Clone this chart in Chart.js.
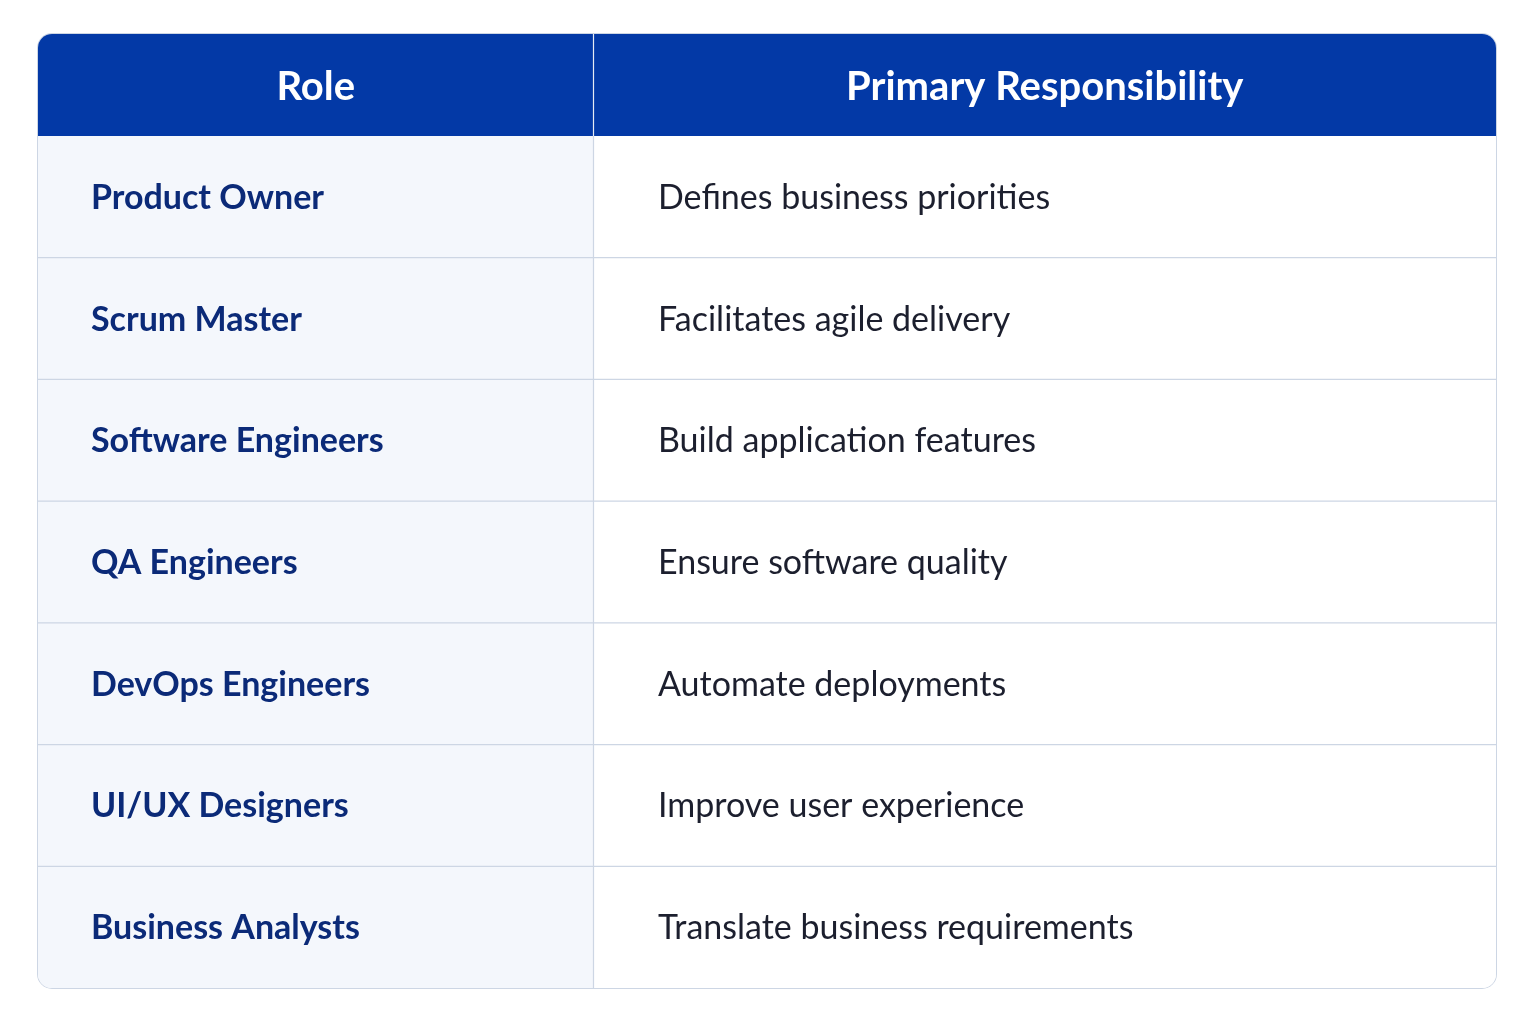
<!DOCTYPE html>
<html><head><meta charset="utf-8">
<script src="https://cdn.jsdelivr.net/npm/chart.js@4/dist/chart.umd.min.js"></script>
<style>
html,body{margin:0;padding:0;background:#fff;width:1536px;height:1024px;overflow:hidden}
#wrap{position:absolute;left:38px;top:34px;width:1458px;height:954px;border-radius:14px;overflow:hidden;box-shadow:0 0 0 1px #cdd6e4}
canvas{display:block}
</style></head><body>
<div id="wrap"><canvas id="c" width="1458" height="954"></canvas></div>
<script>
const headers = ["Role", "Primary Responsibility"];
const roles = ["Product Owner","Scrum Master","Software Engineers","QA Engineers","DevOps Engineers","UI/UX Designers","Business Analysts"];
const responsibilities = ["Defines business priorities","Facilitates agile delivery","Build application features","Ensure software quality","Automate deployments","Improve user experience","Translate business requirements"];
const colSplit = 38.1;

const tablePlugin = {
  id:'table',
  afterDatasetsDraw(chart){
    const {ctx, chartArea:a, scales:{x,y}} = chart;
    const xs = x.getPixelForValue(colSplit);
    ctx.save();
    // header
    ctx.fillStyle = '#0339a6';
    ctx.fillRect(0,0,chart.width,a.top);
    ctx.fillStyle='#fff';
    ctx.font='bold 40px Lato, "Open Sans", sans-serif';
    ctx.textAlign='center'; ctx.textBaseline='middle';
    ctx.fillText(headers[0], xs/2, a.top/2+2);
    ctx.fillText(headers[1], (xs+chart.width)/2, a.top/2+2);
    // grid lines
    ctx.strokeStyle='#cdd6e4'; ctx.lineWidth=1.2;
    const n = roles.length;
    for(let i=0;i<n-1;i++){
      const yy = (y.getPixelForValue(i)+y.getPixelForValue(i+1))/2;
      ctx.beginPath(); ctx.moveTo(0,yy); ctx.lineTo(chart.width,yy); ctx.stroke();
    }
    ctx.beginPath(); ctx.moveTo(xs,a.top); ctx.lineTo(xs,chart.height); ctx.stroke();
    ctx.strokeStyle='#e6ebf3';
    ctx.beginPath(); ctx.moveTo(xs,0); ctx.lineTo(xs,a.top); ctx.stroke();
    // text
    ctx.textAlign='left';
    roles.forEach((r,i)=>{
      const yy=y.getPixelForValue(i)+1;
      ctx.fillStyle='#0b2a78'; ctx.font='bold 34px Lato, "Open Sans", sans-serif';
      ctx.fillText(r, 53, yy);
      ctx.fillStyle='#1c1f2e'; ctx.font='34px Lato, "Open Sans", sans-serif';
      ctx.fillText(responsibilities[i], 620, yy);
    });
    ctx.restore();
  }
};

new Chart(document.getElementById('c'),{
  type:'bar',
  data:{labels:roles,datasets:[
    {data:roles.map(()=>[0,colSplit]),backgroundColor:'#f4f7fc',barPercentage:1,categoryPercentage:1,grouped:false},
    {data:roles.map(()=>[colSplit,100]),backgroundColor:'#ffffff',barPercentage:1,categoryPercentage:1,grouped:false}
  ]},
  options:{
    indexAxis:'y',responsive:false,animation:false,
    layout:{padding:{top:102,left:0,right:0,bottom:0}},
    plugins:{legend:{display:false},tooltip:{enabled:false}},
    scales:{x:{display:false,min:0,max:100},y:{display:false}}
  },
  plugins:[tablePlugin]
});
</script></body></html>
